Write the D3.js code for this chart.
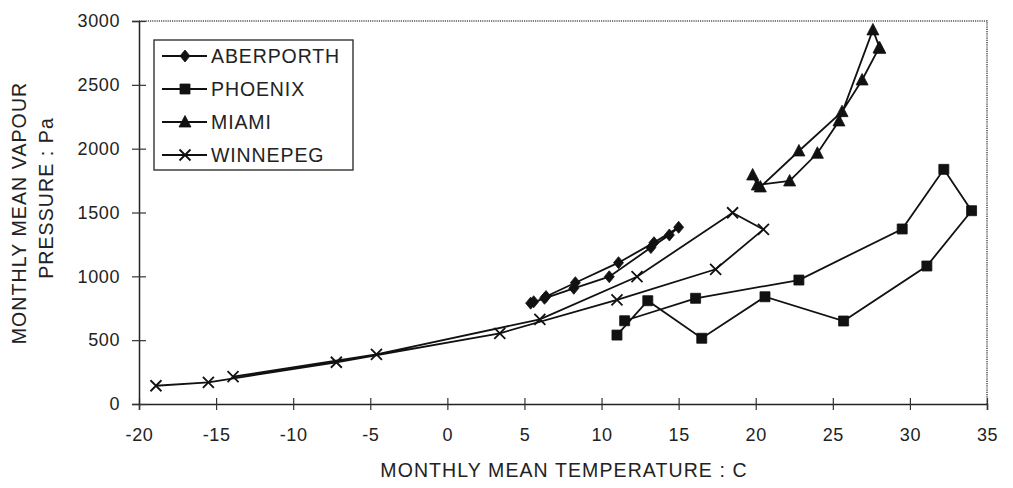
<!DOCTYPE html>
<html lang="en">
<head>
  <meta charset="UTF-8">
  <title>Vapour pressure vs temperature</title>
  <script src="https://cdn.jsdelivr.net/npm/d3@7"></script>
  <style>
    * { margin: 0; padding: 0; }
    body { background: #fff; width: 1013px; height: 488px; overflow: hidden; }
    text { font-family: "Liberation Sans", Arial, sans-serif; fill: #222; }
  </style>
</head>
<body>
  <div id="chart"></div>
  <script>
  // values (temperature C, vapour pressure Pa), Jan..Dec
  var aberporthTemp = [5.6, 5.4, 6.3, 8.2, 10.5, 13.2, 14.4, 15.0, 13.4, 11.1, 8.3, 6.4];
  var aberporthVp   = [801, 790, 828, 906, 997, 1225, 1324, 1384, 1264, 1107, 950, 842];
  var phoenixTemp = [11.0, 13.0, 16.5, 20.6, 25.7, 31.1, 34.0, 32.2, 29.5, 22.8, 16.1, 11.5];
  var phoenixVp   = [540, 809, 515, 840, 650, 1081, 1514, 1838, 1371, 971, 828, 652];
  var miamiTemp = [19.8, 20.1, 22.2, 24.0, 25.4, 27.6, 28.05, 28.0, 26.9, 25.6, 22.8, 20.3];
  var miamiVp   = [1794, 1715, 1747, 1964, 2217, 2930, 2786, 2790, 2538, 2290, 1982, 1700];
  var winnipegTemp = [-18.9, -15.5, -7.2, 3.4, 11.0, 17.4, 20.5, 18.5, 12.3, 6.0, -4.6, -13.9];
  var winnipegVp   = [143, 170, 327, 554, 815, 1055, 1368, 1498, 997, 663, 389, 214];

  var seriesNames = ["ABERPORTH", "PHOENIX", "MIAMI", "WINNEPEG"];
  var xTicks = [-20, -15, -10, -5, 0, 5, 10, 15, 20, 25, 30, 35];
  var yTicks = [0, 500, 1000, 1500, 2000, 2500, 3000];

  var series = [
    { name: seriesNames[0], shape: "diamond",  t: aberporthTemp, v: aberporthVp },
    { name: seriesNames[1], shape: "square",   t: phoenixTemp,   v: phoenixVp },
    { name: seriesNames[2], shape: "triangle", t: miamiTemp,     v: miamiVp },
    { name: seriesNames[3], shape: "cross",    t: winnipegTemp,  v: winnipegVp }
  ];

  var width = 1013, height = 488;
  var svg = d3.select("#chart").append("svg")
      .attr("width", width)
      .attr("height", height);

  var x = d3.scaleLinear().domain([-20, 35]).range([139, 987]);
  var y = d3.scaleLinear().domain([0, 3000]).range([404, 21]);

  // marker paths
  function marker(shape) {
    if (shape === "diamond") return "M0,-6L5,0L0,6L-5,0Z";
    if (shape === "square") return "M-5,-5H5V5H-5Z";
    if (shape === "triangle") return "M0,-6.5L6,5H-6Z";
    return "M-5.5,-5.5L5.5,5.5M-5.5,5.5L5.5,-5.5";
  }

  // dotted frame top + right
  svg.append("path")
      .attr("d", "M" + x(-20) + "," + y(3000) + "H" + x(35) + "V" + y(0))
      .attr("fill", "none")
      .attr("stroke", "#555")
      .attr("stroke-width", 1.6)
      .attr("stroke-dasharray", "1.2,1");

  var plain = function (d) { return String(d); };

  // axes
  var xAxis = svg.append("g")
      .attr("transform", "translate(0," + y(0) + ")")
      .call(d3.axisBottom(x).tickValues(xTicks).tickFormat(plain).tickSize(6).tickPadding(18));
  var yAxis = svg.append("g")
      .attr("transform", "translate(" + x(-20) + ",0)")
      .call(d3.axisLeft(y).tickValues(yTicks).tickFormat(plain).tickSize(7).tickPadding(12));

  [xAxis, yAxis].forEach(function (g) {
    g.select(".domain").attr("stroke", "#222").attr("stroke-width", 1.5);
    g.selectAll(".tick line").attr("stroke", "#333").attr("stroke-width", 1.2);
    g.selectAll(".tick text")
      .style("font-size", "18px")
      .style("letter-spacing", "0.6px")
      .attr("fill", "#222");
  });
  xAxis.selectAll(".tick line").attr("y1", -6).attr("y2", 6);
  yAxis.selectAll(".tick line").attr("x1", -7).attr("x2", 7);

  // series lines and markers
  var line = d3.line()
      .x(function (d) { return x(d[0]); })
      .y(function (d) { return y(d[1]); });

  series.forEach(function (s) {
    var pts = s.t.map(function (t, i) { return [t, s.v[i]]; });
    svg.append("path")
        .datum(pts)
        .attr("d", line)
        .attr("fill", "none")
        .attr("stroke", "#111")
        .attr("stroke-width", 1.8);
    svg.selectAll(null)
        .data(pts)
        .enter()
        .append("path")
          .attr("transform", function (d) { return "translate(" + x(d[0]) + "," + y(d[1]) + ")"; })
          .attr("d", marker(s.shape))
          .attr("fill", s.shape === "cross" ? "none" : "#111")
          .attr("stroke", "#111")
          .attr("stroke-width", s.shape === "cross" ? 1.8 : 0.8);
  });

  // legend
  var legend = svg.append("g");
  legend.append("rect")
      .attr("x", 154).attr("y", 40)
      .attr("width", 199).attr("height", 130)
      .attr("fill", "#fff")
      .attr("stroke", "#333")
      .attr("stroke-width", 1.4);
  series.forEach(function (s, i) {
    var ly = 56 + i * 33;
    legend.append("line")
        .attr("x1", 162).attr("x2", 207)
        .attr("y1", ly).attr("y2", ly)
        .attr("stroke", "#111").attr("stroke-width", 1.8);
    legend.append("path")
        .attr("transform", "translate(185," + ly + ")")
        .attr("d", marker(s.shape))
        .attr("fill", s.shape === "cross" ? "none" : "#111")
        .attr("stroke", "#111")
        .attr("stroke-width", s.shape === "cross" ? 1.8 : 0.8);
    legend.append("text")
        .attr("x", 211).attr("y", ly)
        .attr("dy", "0.36em")
        .style("font-size", "19.5px")
        .style("letter-spacing", "0.9px")
        .text(s.name);
  });

  // axis titles
  svg.append("text")
      .attr("x", 564).attr("y", 477)
      .attr("text-anchor", "middle")
      .style("font-size", "19.5px")
      .style("letter-spacing", "1.1px")
      .text("MONTHLY MEAN TEMPERATURE : C");
  svg.append("text")
      .attr("transform", "translate(26,213) rotate(-90)")
      .attr("text-anchor", "middle")
      .style("font-size", "19.5px")
      .style("letter-spacing", "1.1px")
      .text("MONTHLY MEAN VAPOUR");
  svg.append("text")
      .attr("transform", "translate(53,198) rotate(-90)")
      .attr("text-anchor", "middle")
      .style("font-size", "19.5px")
      .style("letter-spacing", "1.1px")
      .text("PRESSURE : Pa");
  </script>
</body>
</html>
